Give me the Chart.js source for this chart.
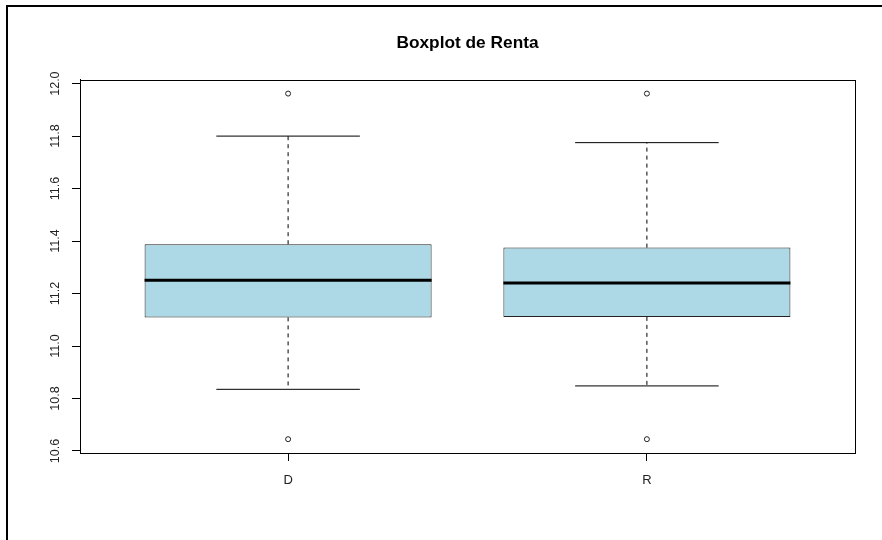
<!DOCTYPE html>
<html>
<head>
<meta charset="utf-8">
<script src="https://cdn.jsdelivr.net/npm/chart.js@4.4.1/dist/chart.umd.min.js"></script>
<style>
    html, body { margin: 0; padding: 0; background: #fff; }
    .frame {
        position: absolute;
        left: 6px;
        top: 5px;
        border-top: 2px solid #000;
        border-left: 2px solid #000;
    }
    canvas { display: block; }
</style>
</head>
<body>
<div class="frame">
    <canvas id="boxChart" width="874" height="533"></canvas>
</div>
<script>
// Data
const categories = ['D', 'R'];
const lowerWhisker = [10.835, 10.848];
const q1 = [11.109, 11.111];
const median = [11.251, 11.240];
const q3 = [11.388, 11.375];
const upperWhisker = [11.800, 11.775];
const outliers = [[10.645, 11.962], [10.645, 11.962]];
const yTicks = [10.6, 10.8, 11.0, 11.2, 11.4, 11.6, 11.8, 12.0];

const boxHalf = 0.4;   // boxwex 0.8
const capHalf = 0.2;

// R-style axis ranges: extend the data range by 4% on both sides
const allValues = outliers.flat().concat(lowerWhisker, upperWhisker);
const yLo = Math.min(...allValues);
const yHi = Math.max(...allValues);
const yPad = (yHi - yLo) * 0.04;
const xPad = categories.length * 0.04;

const pos = categories.map((c, i) => i + 1);

const boxData = pos.map((x, i) => ({ x: x, y: [q1[i], q3[i]] }));

const medianData = [];
const whiskerData = [];
const capData = [];
pos.forEach((x, i) => {
    medianData.push({ x: x - boxHalf, y: median[i] }, { x: x + boxHalf, y: median[i] }, { x: x, y: null });
    whiskerData.push({ x: x, y: q3[i] }, { x: x, y: upperWhisker[i] }, { x: x, y: null });
    whiskerData.push({ x: x, y: q1[i] }, { x: x, y: lowerWhisker[i] }, { x: x, y: null });
    capData.push({ x: x - capHalf, y: upperWhisker[i] }, { x: x + capHalf, y: upperWhisker[i] }, { x: x, y: null });
    capData.push({ x: x - capHalf, y: lowerWhisker[i] }, { x: x + capHalf, y: lowerWhisker[i] }, { x: x, y: null });
});

const outlierData = [];
pos.forEach((x, i) => {
    outliers[i].forEach(v => outlierData.push({ x: x, y: v }));
});

// Box around the plotting region
const plotFrame = {
    id: 'plotFrame',
    afterDraw(chart) {
        const { ctx, chartArea } = chart;
        ctx.save();
        ctx.strokeStyle = '#000';
        ctx.lineWidth = 1;
        ctx.strokeRect(Math.round(chartArea.left) + 0.5, Math.round(chartArea.top) + 0.5,
            Math.round(chartArea.width), Math.round(chartArea.height));
        ctx.restore();
    }
};

const fontFamily = '"Liberation Sans", Arial, sans-serif';

new Chart(document.getElementById('boxChart'), {
    type: 'bar',
    data: {
        datasets: [
            {
                type: 'bar',
                data: boxData,
                backgroundColor: '#ADD8E6',
                borderColor: '#222',
                borderWidth: 1,
                borderSkipped: false,
                barPercentage: 0.8,
                categoryPercentage: 1.0,
                order: 5
            },
            {
                type: 'line',
                data: whiskerData,
                borderColor: '#000',
                borderWidth: 1,
                borderDash: [4, 4],
                pointRadius: 0,
                spanGaps: false,
                order: 4
            },
            {
                type: 'line',
                data: capData,
                borderColor: '#000',
                borderWidth: 1,
                pointRadius: 0,
                spanGaps: false,
                order: 3
            },
            {
                type: 'line',
                data: medianData,
                borderColor: '#000',
                borderWidth: 3,
                pointRadius: 0,
                spanGaps: false,
                order: 2
            },
            {
                type: 'scatter',
                data: outlierData,
                pointRadius: 2.5,
                pointBorderWidth: 1,
                pointBorderColor: '#222',
                pointBackgroundColor: '#fff',
                order: 1
            }
        ]
    },
    options: {
        responsive: false,
        animation: false,
        layout: {
            padding: { left: 0, right: 27, top: 0, bottom: 47 }
        },
        plugins: {
            legend: { display: false },
            tooltip: { enabled: false },
            title: {
                display: true,
                text: 'Boxplot de Renta',
                fullSize: false,
                color: '#000',
                font: { family: fontFamily, size: 17.3, weight: 'bold' },
                padding: { top: 26, bottom: 26 }
            }
        },
        scales: {
            x: {
                type: 'linear',
                offset: false,
                min: 0.5 - xPad,
                max: categories.length + 0.5 + xPad,
                afterBuildTicks: scale => {
                    scale.ticks = pos.map(v => ({ value: v }));
                },
                afterFit: scale => { scale.height = 40; },
                grid: {
                    display: true,
                    offset: false,
                    drawOnChartArea: false,
                    drawTicks: true,
                    tickLength: 8,
                    tickColor: '#000'
                },
                border: { display: true, color: '#000' },
                ticks: {
                    color: '#222',
                    padding: 12,
                    maxRotation: 0,
                    font: { family: fontFamily, size: 13 },
                    callback: v => categories[v - 1]
                }
            },
            y: {
                type: 'linear',
                min: yLo - yPad,
                max: yHi + yPad,
                afterBuildTicks: scale => {
                    scale.ticks = yTicks.map(v => ({ value: v }));
                },
                afterFit: scale => { scale.width = 72; },
                grid: {
                    display: true,
                    drawOnChartArea: false,
                    drawTicks: true,
                    tickLength: 8,
                    tickColor: '#000'
                },
                border: { display: true, color: '#000' },
                ticks: {
                    color: '#222',
                    padding: 4,
                    minRotation: 90,
                    maxRotation: 90,
                    crossAlign: 'center',
                    font: { family: fontFamily, size: 12.5 },
                    callback: v => v.toFixed(1)
                }
            }
        }
    },
    plugins: [plotFrame]
});
</script>
</body>
</html>
